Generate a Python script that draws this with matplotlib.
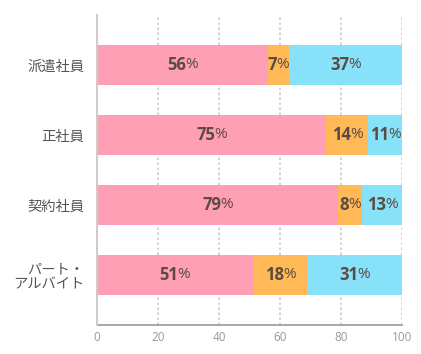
import numpy as np
import matplotlib
matplotlib.use("Agg")
import matplotlib.pyplot as plt

plt.rcParams['font.family'] = ['Noto Sans CJK JP', 'DejaVu Sans']

categories = ['派遣社員', '正社員', '契約社員', 'パート・\nアルバイト']
part_a = [56, 75, 79, 51]
part_b = [7, 14, 8, 18]
part_c = [37, 11, 13, 31]
colors = ['#FF9FB5', '#FFB957', '#87E1F8']
text_col = '#5b4b44'

fig = plt.figure(figsize=(4.21, 3.54), dpi=100)
ax = fig.add_axes([97/421, 29/354, 305/421, 310/354])

y = np.arange(len(categories))
h = 40/70
left = np.zeros(len(categories))
for vals, c in zip([part_a, part_b, part_c], colors):
    vals = np.array(vals)
    ax.barh(y, vals, left=left, height=h, color=c, zorder=2)
    left = left + vals

ax.set_xlim(0, 100)
ax.set_ylim(3 + 50/70, -50/70)
ax.set_yticks(y)
ax.set_yticklabels(categories, fontsize=10.3, color='#555555', linespacing=1.05)
ax.set_xticks([0, 20, 40, 60, 80, 100])
for lb in ax.get_xticklabels():
    lb.set_family('Open Sans')
ax.tick_params(axis='x', length=0, labelsize=8.5, labelcolor='#999999', pad=4)
ax.tick_params(axis='y', length=0, pad=9)
for s in ['top', 'right']:
    ax.spines[s].set_visible(False)
ax.spines['left'].set_color('#cccccc')
ax.spines['bottom'].set_color('#999999')
ax.spines['left'].set_linewidth(1.5)
ax.spines['bottom'].set_linewidth(1.2)
ax.spines['left'].set_zorder(3)
ax.xaxis.grid(True, color='#cccccc', linestyle=(0, (1.5, 1.5)), linewidth=1.2, zorder=0)
ax.set_axisbelow(True)

# labels: bold number + lighter %
fig.canvas.draw()
r = fig.canvas.get_renderer()
inv = ax.transData.inverted()
gap = 1  # px the % is pulled towards the number
left = np.zeros(len(categories))
for vals in [part_a, part_b, part_c]:
    for i, v in enumerate(vals):
        cx = left[i] + v / 2
        t1 = ax.text(cx, i, str(v), ha='right', va='center', fontsize=12,
                     fontweight='bold', family='Open Sans', color=text_col, zorder=4)
        t2 = ax.text(cx, i, '%', ha='left', va='center', fontsize=11,
                     family='Open Sans', color=text_col, zorder=4)
        w1 = t1.get_window_extent(r).width
        w2 = t2.get_window_extent(r).width - gap
        px0 = ax.transData.transform((cx, i))
        shift = (w1 - w2) / 2
        nx = inv.transform((px0[0] + shift, px0[1]))[0]
        nx2 = inv.transform((px0[0] + shift - gap, px0[1]))[0]
        t1.set_x(nx)
        t2.set_x(nx2)
    left = left + np.array(vals)

fig.savefig('out.png', dpi=100)
